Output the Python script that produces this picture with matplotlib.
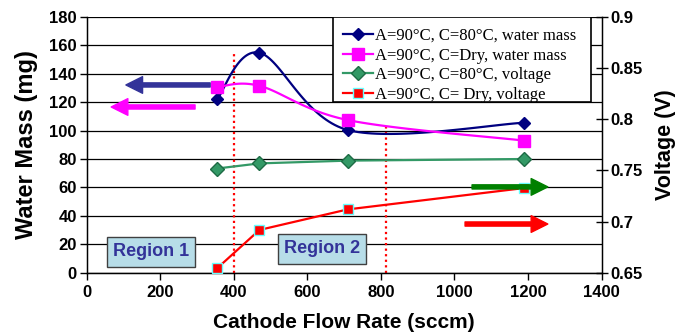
import numpy as np
import matplotlib
matplotlib.use("Agg")
import matplotlib.pyplot as plt
from matplotlib.lines import Line2D
from matplotlib.patches import Rectangle

# data
flow = [355, 470, 710, 1190]
mass_80 = [122.1, 154.9, 100.5, 105.6]
mass_dry = [130.7, 131.6, 107.5, 93.0]
volt_80 = [0.7519, 0.7569, 0.7596, 0.7612]
volt_dry = [0.6543, 0.6918, 0.7119, 0.7328]

labels = ["A=90°C, C=80°C, water mass",
          "A=90°C, C=Dry, water mass",
          "A=90°C, C=80°C, voltage",
          "A=90°C, C= Dry, voltage"]

region_bounds = [400, 815]
region_tops = [155.4, 105.4]

sans = "Liberation Sans"
serif = "Liberation Serif"


def excel_smooth(x, y, n=40):
    # bezier smoothing like the spreadsheet "smoothed line" option
    p = np.column_stack([x, y]).astype(float)
    out = []
    for i in range(len(p) - 1):
        p0 = p[i - 1] if i > 0 else p[i]
        p3 = p[i + 2] if i + 2 < len(p) else p[i + 1]
        c1 = p[i] + (p[i + 1] - p0) / 6
        c2 = p[i + 1] - (p3 - p[i]) / 6
        t = np.linspace(0, 1, n)[:, None]
        seg = ((1 - t) ** 3 * p[i] + 3 * (1 - t) ** 2 * t * c1
               + 3 * (1 - t) * t ** 2 * c2 + t ** 3 * p[i + 1])
        out.append(seg if i == 0 else seg[1:])
    out = np.vstack(out)
    return out[:, 0], out[:, 1]


fig = plt.figure(figsize=(6.9, 3.35), dpi=100)
ax = fig.add_axes([0.1254, 0.186, 0.7464, 0.763])
ax2 = ax.twinx()

blue = "#000080"
pink = "#FF00FF"
green = "#339966"
red = "#FF0000"

# water mass on left axis
sx, sy = excel_smooth(flow, mass_80)
ax.plot(sx, sy, color=blue, lw=1.6, zorder=3)
ax.plot(flow, mass_80, ls="none", marker="D", ms=6.5, color=blue, zorder=4)
sx, sy = excel_smooth(flow, mass_dry)
ax.plot(sx, sy, color=pink, lw=1.6, zorder=3)
ax.plot(flow, mass_dry, ls="none", marker="s", ms=8, color=pink, zorder=4)

# voltage on right axis
ax2.plot(flow, volt_80, color=green, lw=1.6, marker="D", ms=7,
         mfc=green, mec="#1d6b45", zorder=3)
ax2.plot(flow, volt_dry, color=red, lw=1.6, marker="s", ms=6.5,
         mfc=red, mec="#66ffff", mew=1, zorder=3)

# region dividers
for xb, top in zip(region_bounds, region_tops):
    ax.plot([xb, xb], [0, top], color=red, lw=1.6, ls=(0, (1, 1.5)), zorder=2)

box = dict(boxstyle="square,pad=0.35", fc="#b7dde8", ec="#404040", lw=1)
ax.text(175, 14.6, "Region 1", ha="center", va="center", fontsize=13,
        fontweight="bold", color="#333399", family=sans, bbox=box, zorder=5)
ax.text(640, 16.7, "Region 2", ha="center", va="center", fontsize=13,
        fontweight="bold", color="#333399", family=sans, bbox=box, zorder=5)

# arrows showing which axis each pair uses
def arrow(a, tail, tip, c):
    a.annotate("", xy=tip, xytext=tail,
               arrowprops=dict(facecolor=c, edgecolor=c, width=3,
                               headwidth=12, headlength=12, shrink=0),
               zorder=6)

arrow(ax, (336, 132.2), (107, 132.2), "#333399")
arrow(ax, (295, 116.7), (67, 116.7), pink)
arrow(ax2, (1048, 0.7339), (1254, 0.7339), "#008000")
arrow(ax2, (1029, 0.6976), (1254, 0.6976), red)

ax.set_xlim(0, 1400)
ax.set_ylim(0, 180)
ax2.set_ylim(0.65, 0.9)
ax.set_xticks(np.arange(0, 1401, 200))
ax.set_yticks(np.arange(0, 181, 20))
ax2.set_yticks([0.65, 0.7, 0.75, 0.8, 0.85, 0.9])
ax2.set_yticklabels(["0.65", "0.7", "0.75", "0.8", "0.85", "0.9"])

ax.yaxis.grid(True, color="black", lw=0.9)
ax.set_axisbelow(True)

for lab in ax.get_xticklabels() + ax.get_yticklabels() + ax2.get_yticklabels():
    lab.set_fontfamily(sans)
    lab.set_fontweight("bold")
    lab.set_fontsize(12)

ax.tick_params(axis="x", direction="out", length=5, width=1, pad=4)
ax.tick_params(axis="y", direction="out", length=5, width=1, pad=2)
ax2.tick_params(axis="y", direction="inout", length=8, width=1, pad=2)

for s in ax.spines.values():
    s.set_linewidth(1)
    s.set_color("black")
ax.spines["top"].set_visible(False)
ax2.spines["top"].set_visible(False)

ax.set_xlabel("Cathode Flow Rate (sccm)", fontsize=15, fontweight="bold",
              family=sans)
ax.set_ylabel("Water Mass (mg)", fontsize=17, fontweight="bold", family=sans)
ax2.set_ylabel("Voltage (V)", fontsize=15.5, fontweight="bold", family=sans)
ax.yaxis.set_label_coords(-0.094, 0.5)
ax2.yaxis.set_label_coords(1.104, 0.5)
ax.xaxis.set_label_coords(0.5, -0.158)

# legend: separate frame so the text can sit with the padding of the original
frame = Rectangle((0.4786, 0.668), 0.501, 0.332, transform=ax2.transAxes,
                  fc="white", ec="black", lw=1.2, zorder=9)
ax2.add_patch(frame)
handles = [
    Line2D([], [], color=blue, lw=1.6, marker="D", ms=6.5),
    Line2D([], [], color=pink, lw=1.6, marker="s", ms=8),
    Line2D([], [], color=green, lw=1.6, marker="D", ms=7, mec="#1d6b45"),
    Line2D([], [], color=red, lw=1.6, marker="s", ms=6.5, mec="#66ffff"),
]
leg = ax2.legend(handles, labels, loc="upper left",
                 bbox_to_anchor=(0.490, 0.974), borderaxespad=0,
                 prop=dict(family=serif, size=12), frameon=False,
                 labelspacing=0.22, handlelength=1.8, handletextpad=0.1,
                 borderpad=0.25)
leg.set_zorder(10)

fig.savefig("out.png", dpi=100)
